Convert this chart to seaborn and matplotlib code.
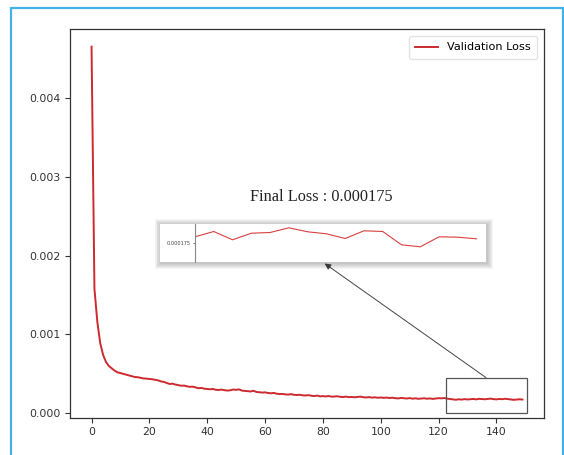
import numpy as np
import pandas as pd
import matplotlib
matplotlib.use("Agg")
import matplotlib.pyplot as plt
from matplotlib.patches import Rectangle
import seaborn as sns

# ---------------- data ----------------
val_loss = [
    0.00465, 0.00158, 0.00116, 0.00089, 0.00074, 0.00065, 0.00060, 0.00057, 0.00054, 0.00052, 0.00051,
    0.000500, 0.000490, 0.000480, 0.000470, 0.000460, 0.000458, 0.000450, 0.000442, 0.000440, 0.000436,
    0.000432, 0.000425, 0.000418, 0.000405, 0.000398, 0.000385, 0.000372, 0.000376, 0.000365, 0.000358,
    0.000350, 0.000352, 0.000342, 0.000336, 0.000338, 0.000328, 0.000318, 0.000322, 0.000312, 0.000308,
    0.000305, 0.000309, 0.000298, 0.000296, 0.000301, 0.000293, 0.000289, 0.000292, 0.000302, 0.000297,
    0.000304, 0.000288, 0.000285, 0.000281, 0.000277, 0.000286, 0.000271, 0.000268, 0.000263, 0.000266,
    0.000258, 0.000254, 0.000259, 0.000249, 0.000244, 0.000246, 0.000240, 0.000238, 0.000243, 0.000235,
    0.000232, 0.000236, 0.000228, 0.000226, 0.000231, 0.000223, 0.000219, 0.000225, 0.000216, 0.000218,
    0.000214, 0.000220, 0.000211, 0.000213, 0.000217, 0.000209, 0.000206, 0.000212, 0.000205, 0.000208,
    0.000203, 0.000207, 0.000212, 0.000204, 0.000201, 0.000206, 0.000199, 0.000203, 0.000197, 0.000201,
    0.000196, 0.000200, 0.000194, 0.000198, 0.000192, 0.000189, 0.000195, 0.000191, 0.000188, 0.000193,
    0.000186, 0.000190, 0.000184, 0.000188, 0.000191, 0.000185, 0.000189, 0.000183, 0.000187, 0.000192,
    0.000190, 0.000194, 0.000186, 0.000181, 0.000175, 0.000172, 0.000178, 0.000174, 0.000180, 0.000176,
    0.000179, 0.000182, 0.000177, 0.000184, 0.000181, 0.000178, 0.000183, 0.000186, 0.000180, 0.000177,
    0.000182, 0.000179, 0.000185, 0.000180, 0.000176, 0.000171, 0.000174, 0.000178, 0.000175,
]
epochs = list(range(len(val_loss)))

inset_epochs = list(range(134, 150))
inset_loss = [
    0.0001810, 0.0001863, 0.0001780, 0.0001846, 0.0001853, 0.0001900, 0.0001860, 0.0001840,
    0.0001793, 0.0001870, 0.0001863, 0.0001730, 0.0001710, 0.0001810, 0.0001806, 0.0001790,
]
inset_tick = [0.000175]
inset_tick_labels = ["0.000175"]

x_ticks = [0, 20, 40, 60, 80, 100, 120, 140]
y_ticks = [0.000, 0.001, 0.002, 0.003, 0.004]
legend_label = "Validation Loss"
final_text = "Final Loss : 0.000175"

df = pd.DataFrame({"epoch": epochs, "loss": val_loss})
df_in = pd.DataFrame({"epoch": inset_epochs, "loss": inset_loss})

# ---------------- figure ----------------
W, H = 564, 455
fig = plt.figure(figsize=(W / 100, H / 100), dpi=100)
fig.patch.set_facecolor("white")

def fx(px):
    return px / W

def fy(py):
    return 1 - py / H

# blue screenshot border
fig.add_artist(Rectangle((fx(10.5), fy(470)), fx(562.5) - fx(10.5), fy(8) - fy(470),
                         transform=fig.transFigure, fill=False,
                         edgecolor="#41b2e8", linewidth=1.6, zorder=1))

ax = fig.add_axes([fx(70), fy(417.5), fx(544) - fx(70), fy(29) - fy(417.5)])
red = "#cc2a2e"
sns.lineplot(data=df, x="epoch", y="loss", ax=ax, color=red, linewidth=1.4,
             label=legend_label)
ax.set_xlabel("")
ax.set_ylabel("")
ax.set_xticks(x_ticks)
ax.set_yticks(y_ticks)
ax.yaxis.set_major_formatter(matplotlib.ticker.FormatStrFormatter("%.3f"))
ax.tick_params(labelsize=7.8, colors="#333333", length=3.5, width=0.8)
for s in ax.spines.values():
    s.set_color("#333333")
    s.set_linewidth(0.9)
leg = ax.legend(loc="upper right", fontsize=8.1, frameon=True, borderaxespad=0.6,
                borderpad=0.6, handlelength=2.0)
leg.get_frame().set_edgecolor("#dddddd")

# zoom rectangle
ax.add_patch(Rectangle((122.4, 0.000009), 150.5 - 122.4, 0.000453 - 0.000009,
                       fill=False, edgecolor="#555555", linewidth=0.9, zorder=4))
# arrow to inset
ax.annotate("", xy=(80.6, 0.00190), xytext=(136.4, 0.000453),
            arrowprops=dict(arrowstyle="-|>", color="#444444", lw=0.7,
                            mutation_scale=9, shrinkA=0, shrinkB=0))

# title text
fig.text(fx(321.5), fy(197), final_text, ha="center", va="center",
         fontsize=11.7, family="Liberation Serif", color="#222222")

# inset soft shadow
bx0, bx1, by0, by1 = 160, 486, 223.5, 261.5
for g in range(6, 0, -1):
    fig.add_artist(Rectangle((fx(bx0 - g + 0.5), fy(by1 + g + 1.0)),
                             fx(bx1 + g + 0.5) - fx(bx0 - g + 0.5),
                             fy(by0 - g + 1.5) - fy(by1 + g + 1.0),
                             transform=fig.transFigure, facecolor="black",
                             edgecolor="none", alpha=0.04, zorder=5))
fig.add_artist(Rectangle((fx(bx0), fy(by1)), fx(bx1) - fx(bx0), fy(by0) - fy(by1),
                         transform=fig.transFigure, facecolor="white",
                         edgecolor="none", zorder=5.5))

axin = fig.add_axes([fx(195), fy(by1), fx(bx1) - fx(195), fy(by0) - fy(by1)], zorder=6)
axin.set_facecolor("none")
sns.lineplot(data=df_in, x="epoch", y="loss", ax=axin, color="#d9403f", linewidth=0.8)
axin.set_xlim(134, 149.5)
axin.set_ylim(0.0001563, 0.0001943)
axin.set_xlabel("")
axin.set_ylabel("")
axin.set_xticks([])
axin.set_yticks(inset_tick)
axin.set_yticklabels(inset_tick_labels)
axin.tick_params(axis="y", labelsize=3.6, length=1.5, width=0.5, pad=1.5,
                 colors="#444444")
for side in ["top", "right", "bottom"]:
    axin.spines[side].set_visible(False)
axin.spines["left"].set_color("#888888")
axin.spines["left"].set_linewidth(0.8)

fig.savefig("out.png", dpi=100)
